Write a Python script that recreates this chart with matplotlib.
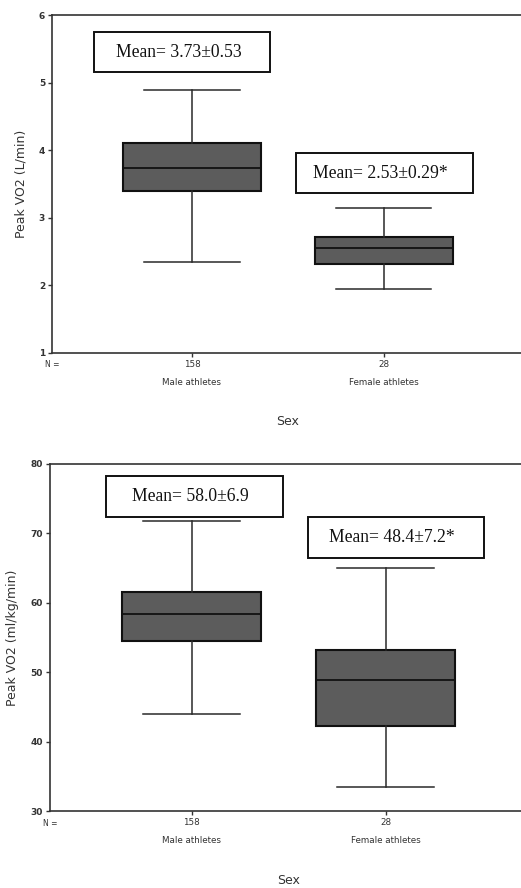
import matplotlib.pyplot as plt
from matplotlib.patches import Rectangle

# Groups and sample sizes
GROUPS = ['Male athletes', 'Female athletes']
N_COUNTS = [158, 28]

# Box stats: lower whisker, Q1, median, Q3, upper whisker
ABS_LOW = [2.35, 1.95]
ABS_Q1 = [3.39, 2.32]
ABS_MED = [3.74, 2.56]
ABS_Q3 = [4.11, 2.72]
ABS_HIGH = [4.89, 3.15]
ABS_NOTES = ['Mean= 3.73\u00b10.53', 'Mean= 2.53\u00b10.29*']

REL_LOW = [44.0, 33.4]
REL_Q1 = [54.5, 42.3]
REL_MED = [58.4, 48.9]
REL_Q3 = [61.6, 53.2]
REL_HIGH = [71.8, 65.0]
REL_NOTES = ['Mean= 58.0\u00b16.9', 'Mean= 48.4\u00b17.2*']

BOX_FILL = '#5c5c5c'
LINE = '#2a2a2a'


def draw_panel(ax, low, q1, med, q3, high, notes, note_boxes, ylim, yticks, ylabel):
    stats = []
    for i in range(len(GROUPS)):
        stats.append(dict(whislo=low[i], q1=q1[i], med=med[i], q3=q3[i],
                          whishi=high[i], fliers=[]))
    ax.bxp(stats, positions=[1, 2], widths=0.72, patch_artist=True,
           showfliers=False,
           boxprops=dict(facecolor=BOX_FILL, edgecolor='#111111', linewidth=1.5),
           medianprops=dict(color='#111111', linewidth=1.3),
           whiskerprops=dict(color=LINE, linewidth=1.1),
           capprops=dict(color=LINE, linewidth=1.1),
           capwidths=0.5)

    # Annotation boxes with the mean +- SD
    for (x0, x1, y0, y1), txt in zip(note_boxes, notes):
        ax.add_patch(Rectangle((x0, y0), x1 - x0, y1 - y0, facecolor='white',
                               edgecolor='#111111', linewidth=1.4, zorder=3))
        ax.text((x0 + x1) / 2 - 0.02, (y0 + y1) / 2, txt, ha='center', va='center',
                family='Liberation Serif', fontsize=12.7, color='#111111', zorder=4)

    ax.set_xlim(0.27, 2.73)
    ax.set_ylim(*ylim)
    ax.set_yticks(yticks)
    ax.set_yticklabels([str(t) for t in yticks], fontsize=6.5, fontweight='bold',
                       color='#333333')
    ax.set_xticks([1, 2])
    ax.set_xticklabels(['%d\n%s' % (n, g) for n, g in zip(N_COUNTS, GROUPS)],
                       fontsize=6.3, color='#333333', linespacing=2.3)
    ax.tick_params(axis='both', length=3, width=1, color='#333333', pad=2)
    ax.text(0, -0.022, 'N =', transform=ax.transAxes, ha='center', va='top',
            fontsize=5.5, color='#333333')

    for side in ['left', 'top', 'bottom']:
        ax.spines[side].set_color('#333333')
        ax.spines[side].set_linewidth(1.2)
    ax.spines['right'].set_visible(False)

    ax.set_ylabel(ylabel, fontsize=9, color='#333333', labelpad=8)
    ax.set_xlabel('Sex', fontsize=9, color='#333333', labelpad=20.5)


fig = plt.figure(figsize=(5.21, 8.88), dpi=100)

ax1 = fig.add_axes([0.0998, 0.6025, 0.905, 0.3806])
draw_panel(ax1, ABS_LOW, ABS_Q1, ABS_MED, ABS_Q3, ABS_HIGH, ABS_NOTES,
           [(0.49, 1.41, 5.15, 5.75), (1.545, 2.466, 3.36, 3.96)],
           (1, 6), [1, 2, 3, 4, 5, 6], 'Peak VO2 (L/min)')

ax2 = fig.add_axes([0.096, 0.0867, 0.916, 0.3908])
draw_panel(ax2, REL_LOW, REL_Q1, REL_MED, REL_Q3, REL_HIGH, REL_NOTES,
           [(0.56, 1.47, 72.4, 78.2), (1.60, 2.505, 66.5, 72.4)],
           (30, 80), [30, 40, 50, 60, 70, 80], 'Peak VO2 (ml/kg/min)')

fig.savefig('out.png', dpi=100)
